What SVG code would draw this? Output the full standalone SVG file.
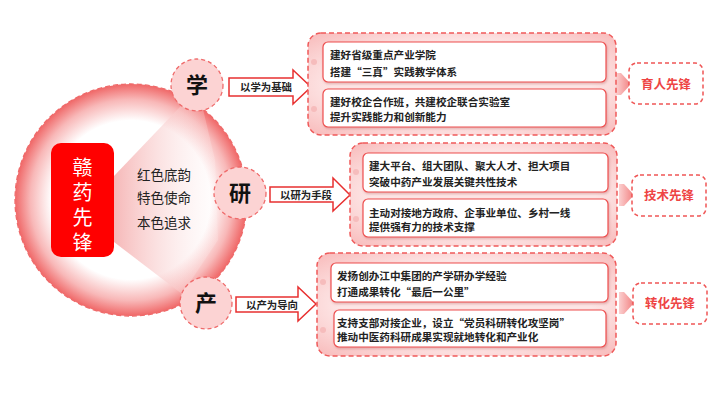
<svg xmlns="http://www.w3.org/2000/svg" width="724" height="408" viewBox="0 0 724 408">
<defs>
<radialGradient id="ring" cx="131" cy="200" r="117" gradientUnits="userSpaceOnUse">
<stop offset="0" stop-color="#ffffff"/>
<stop offset="0.68" stop-color="#ffffff"/>
<stop offset="0.86" stop-color="#f8b8b8"/>
<stop offset="1" stop-color="#ef6262"/>
</radialGradient>
<linearGradient id="wedge" x1="114" y1="0" x2="225" y2="0" gradientUnits="userSpaceOnUse">
<stop offset="0" stop-color="#f29a9a" stop-opacity="0.7"/>
<stop offset="1" stop-color="#ffffff" stop-opacity="0.15"/>
</linearGradient>
<linearGradient id="small" x1="0" y1="0" x2="1" y2="0">
<stop offset="0" stop-color="#fbd0d0"/>
<stop offset="1" stop-color="#f28080"/>
</linearGradient>
<radialGradient id="cont" cx="0.5" cy="0.5" r="0.7">
<stop offset="0.6" stop-color="#fde6e6"/>
<stop offset="1" stop-color="#f8baba"/>
</radialGradient>
<clipPath id="cc"><circle cx="131" cy="200" r="116"/></clipPath>
<filter id="sh" x="-5%" y="-10%" width="110%" height="130%">
<feDropShadow dx="1" dy="1.5" stdDeviation="1" flood-color="#b05050" flood-opacity="0.35"/>
</filter>
</defs>
<style>
.cn{font-family:"Noto Sans CJK SC","Noto Sans",sans-serif}
.box{fill:#ffffff;stroke:#ee4f4f;stroke-width:1.2}
.cont{fill:url(#cont);stroke:#ef5a5a;stroke-width:1.5;stroke-dasharray:5 3}
.bt{font-size:10.6px;font-weight:bold;fill:#222222}
.arr{fill:#ffffff;stroke:#e83030;stroke-width:1.5}
.al{font-size:10.4px;font-weight:bold;fill:#222222}
.sc{fill:#fcd3d3;stroke:#ef6a6a;stroke-width:1.3;stroke-dasharray:4 3}
.sct{font-size:22px;font-weight:bold;fill:#111111;text-anchor:middle}
.res{fill:#ffffff;stroke:#ef5555;stroke-width:1.5;stroke-dasharray:4 3}
.rt{font-size:12.5px;font-weight:bold;fill:#ee4444;text-anchor:middle}
.dot{fill:#f6bcbc}
.ct{font-size:13.5px;fill:#222222}
.vt{font-size:20px;fill:#ffffff;writing-mode:vertical-rl;letter-spacing:5px}
</style>

<g id="core">
<circle cx="131" cy="200" r="116" fill="url(#ring)" stroke="#ef6a6a" stroke-width="1.3" stroke-dasharray="5 3"/>
<polygon points="114,176 198,88 215,160 218,240 182,294 114,242" fill="url(#wedge)" clip-path="url(#cc)"/>
<rect x="51" y="143" width="63" height="114" rx="10" fill="#ff0000"/>
<text class="cn vt" x="82.5" y="157">赣药先锋</text>
<text class="cn ct" x="137" y="180">红色底韵</text>
<text class="cn ct" x="137" y="203">特色使命</text>
<text class="cn ct" x="137" y="228">本色追求</text>
</g>

<g id="node-xue">
<circle class="sc" cx="197" cy="85" r="26"/>
<text class="cn sct" x="197" y="93">学</text>
</g>
<g id="node-yan">
<circle class="sc" cx="240" cy="193" r="26"/>
<text class="cn sct" x="240" y="201">研</text>
</g>
<g id="node-chan">
<circle class="sc" cx="206" cy="303" r="26"/>
<text class="cn sct" x="206" y="311">产</text>
</g>

<g id="connectors">
<polygon class="arr" points="229,78 293,78 293,70 311,87 293,104 293,96 229,96"/>
<polygon class="arr" points="270,187 333,187 333,178 350,195 333,211 333,202 270,202"/>
<polygon class="arr" points="236,297 298,297 298,287 316,304 298,321 298,312 236,312"/>
<polygon points="616,73 621,73 631,84 621,95 616,95" fill="url(#small)"/>
<polygon points="619,184 624,184 634,195 624,206 619,206" fill="url(#small)"/>
<polygon points="619,292 624,292 634,303 624,314 619,314" fill="url(#small)"/>
</g>
<text class="cn al" x="240" y="91">以学为基础</text>
<text class="cn al" x="280" y="199">以研为手段</text>
<text class="cn al" x="246" y="309">以产为导向</text>

<g id="group-xue">
<rect class="cont" x="308" y="33" width="308" height="102" rx="13"/>
<circle class="dot" cx="314" cy="62" r="3"/>
<circle class="dot" cx="314" cy="109" r="3"/>
<rect class="box" x="323" y="42" width="283" height="40" rx="5" filter="url(#sh)"/>
<rect class="box" x="323" y="89" width="283" height="38" rx="5" filter="url(#sh)"/>
<text class="cn bt" x="330" y="59">建好省级重点产业学院</text>
<text class="cn bt" x="330" y="76">搭建“三真”实践教学体系</text>
<text class="cn bt" x="330" y="106">建好校企合作班，共建校企联合实验室</text>
<text class="cn bt" x="330" y="121">提升实践能力和创新能力</text>
</g>

<g id="group-yan">
<rect class="cont" x="350" y="143" width="267" height="103" rx="13"/>
<circle class="dot" cx="356" cy="172" r="3"/>
<circle class="dot" cx="356" cy="219" r="3"/>
<rect class="box" x="363" y="153" width="245" height="39" rx="5" filter="url(#sh)"/>
<rect class="box" x="363" y="199" width="245" height="38" rx="5" filter="url(#sh)"/>
<text class="cn bt" x="369" y="170">建大平台、组大团队、聚大人才、担大项目</text>
<text class="cn bt" x="369" y="186">突破中药产业发展关键共性技术</text>
<text class="cn bt" x="369" y="217">主动对接地方政府、企事业单位、乡村一线</text>
<text class="cn bt" x="369" y="231">提供强有力的技术支撑</text>
</g>

<g id="group-chan">
<rect class="cont" x="317" y="253" width="299" height="103" rx="13"/>
<circle class="dot" cx="323" cy="282" r="3"/>
<circle class="dot" cx="323" cy="330" r="3"/>
<rect class="box" x="331" y="263" width="277" height="39" rx="5" filter="url(#sh)"/>
<rect class="box" x="334" y="310" width="272" height="37" rx="5" filter="url(#sh)"/>
<text class="cn bt" x="337" y="280">发扬创办江中集团的产学研办学经验</text>
<text class="cn bt" x="337" y="296">打通成果转化“最后一公里”</text>
<text class="cn bt" x="337" y="327">支持支部对接企业，设立“党员科研转化攻坚岗”</text>
<text class="cn bt" x="337" y="341">推动中医药科研成果实现就地转化和产业化</text>
</g>

<g id="res-xue">
<rect class="res" x="629" y="63" width="74" height="41" rx="8"/>
<text class="cn rt" x="666" y="88.5">育人先锋</text>
</g>
<g id="res-yan">
<rect class="res" x="632" y="175" width="74" height="41" rx="8"/>
<text class="cn rt" x="669" y="200">技术先锋</text>
</g>
<g id="res-chan">
<rect class="res" x="633" y="283" width="74" height="41" rx="8"/>
<text class="cn rt" x="670" y="308">转化先锋</text>
</g>
</svg>
